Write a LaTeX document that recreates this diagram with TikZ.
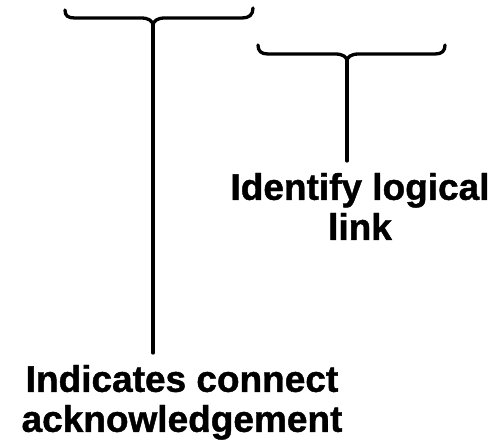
\documentclass[tikz,border=0pt]{standalone}
\usepackage{fontspec}
\setmainfont{Liberation Sans}[BoldFeatures={FakeBold=1.2}]
\usetikzlibrary{positioning}

\begin{document}
\begin{tikzpicture}[x=1pt, y=-1pt,
    llave/.style={line width=3.3pt, line cap=round, line join=round},
    etiqueta/.style={font=\fontsize{37}{40}\selectfont\bfseries, align=center,
      inner sep=0pt, outer ysep=12pt, anchor=north}]
    \useasboundingbox (0,0) rectangle (499,441);
    % Nodos
    \coordinate (c1) at (153,26);
    \coordinate (c2) at (347,61);
    \node[etiqueta] (ident) at (360,161) {Identify logical\\link};
    \node[etiqueta] (ack) at (182,353) {Indicates connect\\acknowledgement};

    % Llaves
    \draw[llave] (65,10) .. controls (65,16) and (68,18) .. (75,18) -- (141,18) .. controls (149,18) and (153,21) .. (c1);
    \draw[llave] (253,8) .. controls (253,15) and (249,18) .. (242,18) -- (165,18) .. controls (157,18) and (153,21) .. (c1);
    \draw[llave] (258,45) .. controls (258,51) and (261,54) .. (268,54) -- (335,54) .. controls (343,54) and (347,57) .. (c2);
    \draw[llave] (445,45) .. controls (445,51) and (442,54) .. (435,54) -- (359,54) .. controls (351,54) and (347,57) .. (c2);
    \draw[llave] (c1) -- (c1 |- ack.north);
    \draw[llave] (c2) -- (c2 |- ident.north);
  \end{tikzpicture}
\end{document}
